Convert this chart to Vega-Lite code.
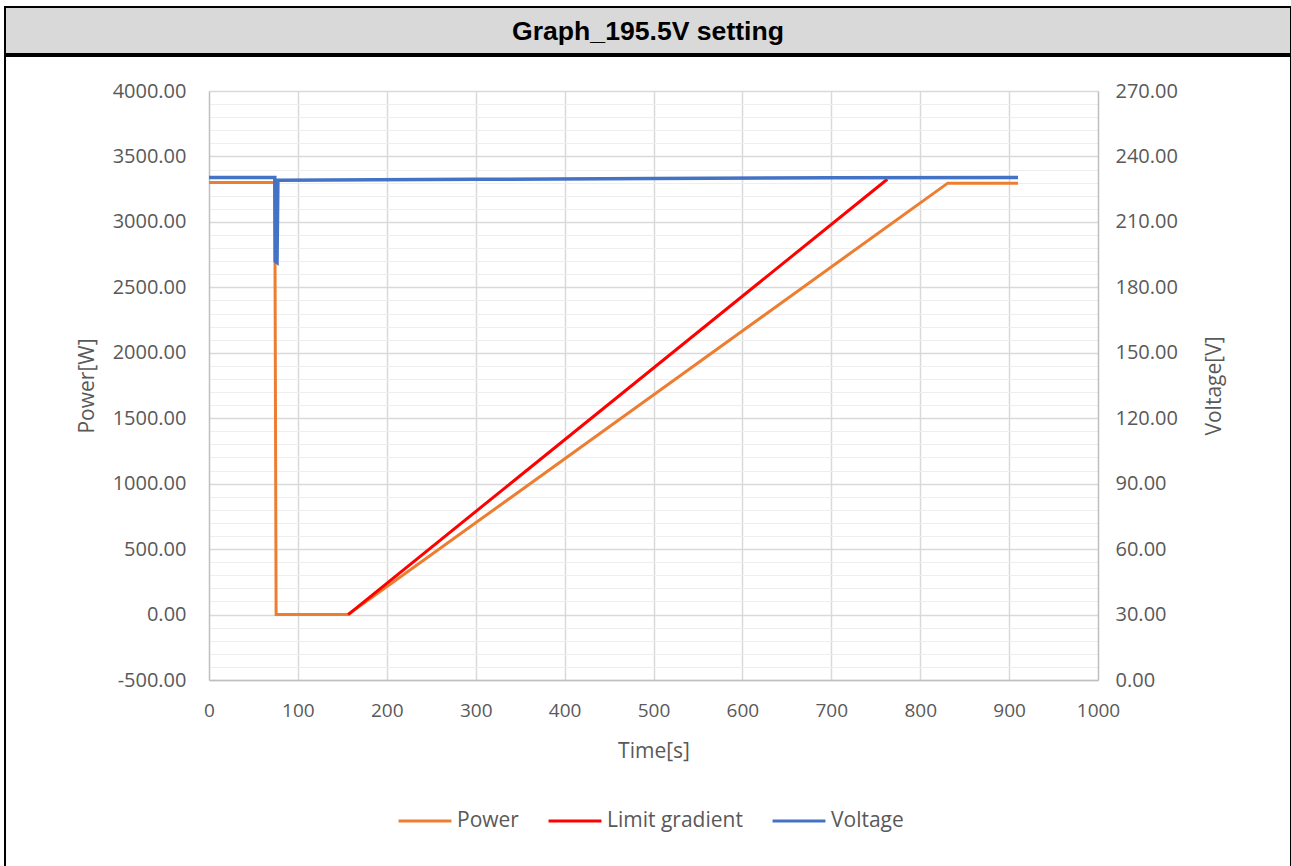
{
  "$schema": "https://vega.github.io/schema/vega-lite/v6.json",
  "padding": {"left": 4, "top": 6, "right": 0, "bottom": 0},
  "background": "white",
  "spacing": 0,
  "datasets": {
    "header": [{"label": "Graph_195.5V setting"}],
    "power": [
      {"t": 0, "value": 3300, "series": "Power"},
      {"t": 74, "value": 3300, "series": "Power"},
      {"t": 75.5, "value": 0, "series": "Power"},
      {"t": 156.5, "value": 0, "series": "Power"},
      {"t": 831, "value": 3296, "series": "Power"},
      {"t": 910, "value": 3296, "series": "Power"},
      {"t": 156.5, "value": 0, "series": "Limit gradient"},
      {"t": 763, "value": 3326, "series": "Limit gradient"}
    ],
    "voltage": [
      {"t": 0, "value": 230.3, "series": "Voltage"},
      {"t": 74, "value": 230.3, "series": "Voltage"},
      {"t": 74.5, "value": 192, "series": "Voltage"},
      {"t": 76.5, "value": 191.4, "series": "Voltage"},
      {"t": 77.5, "value": 229.1, "series": "Voltage"},
      {"t": 300, "value": 229.5, "series": "Voltage"},
      {"t": 500, "value": 229.9, "series": "Voltage"},
      {"t": 700, "value": 230.2, "series": "Voltage"},
      {"t": 910, "value": 230.3, "series": "Voltage"}
    ]
  },
  "vconcat": [
    {
      "width": 1286,
      "height": 47,
      "view": {"fill": "#d9d9d9", "stroke": "black", "strokeWidth": 2},
      "data": {"name": "header"},
      "mark": {"type": "text", "font": "Liberation Sans", "fontWeight": "bold", "fontSize": 26.6, "color": "black", "baseline": "middle", "align": "center", "dy": 1},
      "encoding": {"text": {"field": "label"}}
    },
    {
      "width": 1286,
      "height": 812,
      "view": {"fill": "white", "stroke": "black", "strokeWidth": 2},
      "layer": [
        {
          "data": {"name": "power"},
          "mark": {"type": "line", "strokeWidth": 3, "clip": false},
          "encoding": {
            "x": {
              "field": "t", "type": "quantitative",
              "scale": {"domain": [0, 1000], "range": [204, 1093], "nice": false},
              "axis": {
                "title": "Time[s]", "orient": "bottom", "offset": -188,
                "values": [0, 100, 200, 300, 400, 500, 600, 700, 800, 900, 1000],
                "format": "d", "grid": false, "labelFlush": false,
                "domain": true, "domainColor": "#bfbfbf", "domainWidth": 1.5,
                "labelPadding": 21, "titlePadding": 20
              }
            },
            "y": {
              "field": "value", "type": "quantitative",
              "scale": {"domain": [-500, 4000], "range": [624, 35], "nice": false, "zero": false},
              "axis": {
                "title": "Power[W]", "orient": "left", "offset": -204,
                "values": [-500, -400, -300, -200, -100, 0, 100, 200, 300, 400, 500, 600, 700, 800, 900, 1000, 1100, 1200, 1300, 1400, 1500, 1600, 1700, 1800, 1900, 2000, 2100, 2200, 2300, 2400, 2500, 2600, 2700, 2800, 2900, 3000, 3100, 3200, 3300, 3400, 3500, 3600, 3700, 3800, 3900, 4000],
                "labelExpr": "datum.value % 500 === 0 ? replace(format(datum.value, '.2f'), '\u2212', '-') : ''",
                "labelOverlap": false, "labelFontSize": 20,
                "grid": true,
                "gridColor": {"condition": {"test": "datum.value % 500 === 0", "value": "#d9d9d9"}, "value": "#eeeeee"},
                "gridWidth": {"condition": {"test": "datum.value % 500 === 0", "value": 1.5}, "value": 1},
                "domain": true, "domainColor": "#bfbfbf", "domainWidth": 1.5,
                "labelPadding": 23, "titlePadding": 15
              }
            },
            "color": {
              "field": "series", "type": "nominal",
              "scale": {"domain": ["Power", "Limit gradient", "Voltage"], "range": ["#ED7D31", "#FF0000", "#4472C4"]},
              "legend": {
                "title": null, "orient": "none", "legendX": 392, "legendY": 786,
                "direction": "horizontal", "symbolType": "stroke", "symbolStrokeWidth": 3,
                "symbolSize": 2800, "labelFontSize": 21, "labelColor": "#595959",
                "columnPadding": 23, "labelOffset": 4, "labelLimit": 300, "padding": 0
              }
            }
          }
        },
        {
          "data": {"name": "voltage"},
          "mark": {"type": "line", "strokeWidth": 3.5, "clip": false},
          "encoding": {
            "x": {
              "field": "t", "type": "quantitative",
              "axis": {
                "title": null, "orient": "top", "labels": false, "domain": false, "ticks": false,
                "values": [100, 200, 300, 400, 500, 600, 700, 800, 900],
                "grid": true, "gridColor": "#d9d9d9", "gridWidth": 1.5
              }
            },
            "y": {
              "field": "value", "type": "quantitative",
              "scale": {"domain": [0, 270], "range": [624, 35], "nice": false, "zero": false},
              "axis": {
                "title": "Voltage[V]", "orient": "right", "offset": -193,
                "values": [0, 30, 60, 90, 120, 150, 180, 210, 240, 270],
                "format": ".2f", "grid": false, "labelFontSize": 20,
                "domain": true, "domainColor": "#bfbfbf", "domainWidth": 1.5,
                "labelPadding": 17, "titlePadding": 47, "titleAngle": 270
              }
            },
            "color": {"field": "series", "type": "nominal"}
          }
        }
      ],
      "resolve": {"scale": {"y": "independent"}, "axis": {"x": "independent"}}
    }
  ],
  "config": {
    "font": "Open Sans",
    "axis": {
      "labelColor": "#595959", "titleColor": "#595959",
      "labelFontSize": 19, "titleFontSize": 21, "titleFontWeight": "normal",
      "ticks": false, "labelFont": "Open Sans", "titleFont": "Open Sans"
    },
    "legend": {"labelFont": "Open Sans"}
  }
}
